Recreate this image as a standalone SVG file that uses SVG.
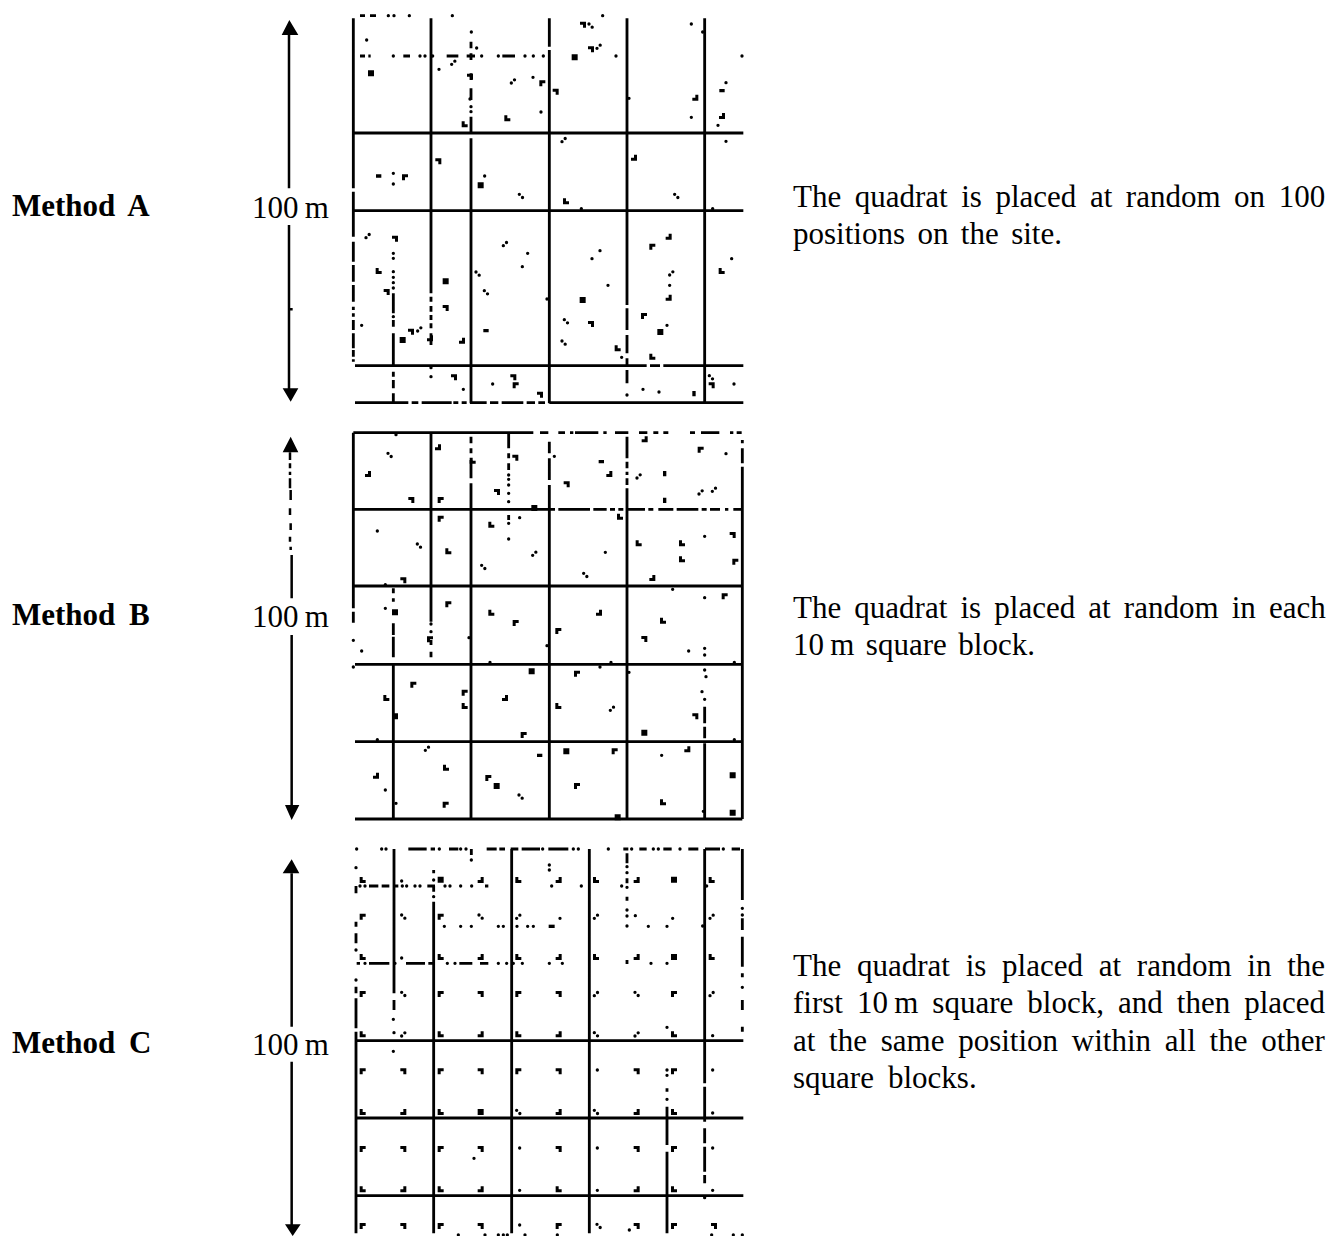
<svg xmlns="http://www.w3.org/2000/svg" width="1331" height="1236" viewBox="0 0 1331 1236">
<style>
text{font-family:"Liberation Serif","Times New Roman",serif;font-size:31px;fill:#000}
.m{font-weight:bold;word-spacing:5.9px}
.l{fill:none;stroke:#000;stroke-width:8.5}
.a{fill:none;stroke:#000;stroke-width:7.5}
.d{fill:none;stroke:#000;stroke-width:10;stroke-linecap:round}
.t{fill:none;stroke:#000;stroke-width:10}
.q{fill:none;stroke:#000;stroke-width:10;stroke-linecap:round;stroke-dasharray:0 13.5}
.s{fill:none;stroke:#000;stroke-width:18}
</style>
<defs>
<filter id="b" x="-2%" y="-2%" width="104%" height="104%"><feGaussianBlur stdDeviation="0.5"/></filter>
<path id="ul" d="M-9-9h18v9h-9v9h-9z"/>
<path id="ur" d="M-9-9h18v18h-9v-9h-9z"/>
<path id="ll" d="M-9-9h9v9h9v9h-18z"/>
<path id="lr" d="M0-9h9v18h-18v-9h9z"/>
</defs>
<rect width="1331" height="1236" fill="#fff"/>
<g id="method-a">
<text class="m" x="12" y="216">Method A</text>
<text x="252" y="218">100&#8201;m</text>
<text x="793" y="206.5" word-spacing="5.8">The quadrat is placed at random on 100</text>
<text x="793" y="243.5" word-spacing="4.7">positions on the site.</text>
<g id="plot-a" filter="url(#b)"><g transform="translate(270 0) scale(.33333)">
<path d="M35 105L58 60L85 105ZM38 1165H85L62 1205Z"/>
<path class="a" d="M57 100V565M57 675V1170M57 928H68"/>
<path class="l" d="M250 55V565M250 575V710M250 725V785M250 795V845M250 855V905M250 920V930M250 940V950M250 960V990M250 1000V1045M250 1050V1070M250 1078V1085
M483 55V880M483 890V905M483 918V935M483 945V960M483 970V985M483 1000V1035
M603 125V145M603 160V180M603 220V240M603 265V300M603 350V400M603 415V1210
M838 55V140M838 150V1210M1071 55V915M1071 925V990M1071 1005V1060M1071 1075V1095M1071 1110V1150M1304 55V1210
M370 880V940M370 960V980M370 1000V1095M370 1115V1130M370 1140V1165M370 1180V1210
M250 399H1420M250 632H1420M255 1097H1130M1140 1097H1170M1180 1097H1420
M255 1208H415M425 1208H445M455 1208H545M550 1208H565M575 1208H590M600 1208H650M660 1208H685M695 1208H760M770 1208H795M805 1208H825M838 1208H1420
M270 168H285M295 168H302M400 168H420M530 168H565M590 168H615M697 168H735M270 47H285M300 47H318"/>
<path class="d" d="M370 168h0M450 168h0M465 168h0M488 168h0M635 168h0M685 168h0M765 168h0M790 168h0M820 168h0M355 47h0M372 47h0M418 47h0M547 47h0M998 47h0M290 120h0M604 96h0M603 320h0M603 335h0M620 144h0M507 208h0M789 232h0M813 336h0M1038 168h0M1416 168h0M1264 72h0M1368 248h0M1264 352h0M1344 376h0M1368 424h0M370 520h0M370 552h0M644 528h0M934 626h0M1328 626h0M990 752h0M966 776h0M773 760h0M757 800h0M1014 856h0M1385 776h0M1199 856h0M1191 976h0M275 976h0M1055 1072h0M483 1130h0M580 1168h0M668 1152h0M1071 1185h0M1119 1168h0M1167 1176h0M1392 1152h0M483 1103h0M370 760h0M370 775h0M370 815h0M370 832h0M370 848h0M370 864h0M370 950h0M1077 295h0M831 897h0M1298 96h0M600 297h0"/>
<path class="s" d="M294 220h18M905 172h18M623 556h18M518 844h18M929 900h18M389 1020h18M1162 996h18"/>
<path class="q" d="M957 72l10 10M748 583l10 10M1214 583l10 10M618 816l10 10M643 872l10 10M883 959l10 10M876 1023l10 10M1318 1127l10 10M545 193l10-10M724 249l10-10M981 145l10-10M876 425l10-10M288 713l10-10M700 737l10-10M1199 825l10-10M443 993l10-10"/>
<path class="t" d="M1348 272h16M318 528h16M640 992h16M1272 1173v16"/>
<use href="#ur" x="939" y="74"/><use href="#ur" x="963" y="148"/><use href="#ur" x="600" y="230"/><use href="#ur" x="505" y="484"/><use href="#ur" x="375" y="716"/><use href="#ur" x="350" y="876"/><use href="#ur" x="527" y="924"/><use href="#ur" x="423" y="995"/><use href="#ur" x="552" y="1132"/><use href="#ur" x="730" y="1132"/><use href="#ur" x="963" y="972"/><use href="#ur" x="857" y="275"/><use href="#ur" x="810" y="1184"/><use href="#ur" x="1325" y="1156"/>
<use href="#ul" x="817" y="250"/><use href="#ul" x="405" y="532"/><use href="#ul" x="1147" y="740"/><use href="#ul" x="1122" y="948"/><use href="#ul" x="737" y="1156"/>
<use href="#ll" x="584" y="373"/><use href="#ll" x="712" y="355"/><use href="#ll" x="888" y="604"/><use href="#ll" x="326" y="813"/><use href="#ll" x="1043" y="1045"/><use href="#ll" x="1147" y="1070"/><use href="#ll" x="1355" y="813"/>
<use href="#lr" x="1276" y="293"/><use href="#lr" x="1356" y="348"/><use href="#lr" x="1196" y="710"/><use href="#lr" x="1196" y="893"/><use href="#lr" x="576" y="1022"/><use href="#lr" x="1092" y="473"/><use href="#lr" x="480" y="1015"/>
</g></g>
</g>
<g id="method-b">
<text class="m" x="12" y="625">Method B</text>
<text x="252" y="627">100&#8201;m</text>
<text x="793" y="617.5" word-spacing="5.4">The quadrat is placed at random in each</text>
<text x="793" y="654.5" word-spacing="3.8">10&#8201;m square block.</text>
<g id="plot-b" filter="url(#b)"><g transform="translate(270 420) scale(.33333)">
<path d="M38 97L62 50L85 97ZM45 1155H88L65 1200Z"/>
<path class="a" d="M60 97V120M60 130V145M60 155V165M60 175V205M62 210V240M60 265V285M62 310V330M60 350V365M62 380V390M65 405V535M65 645V1160"/>
<path class="l" d="M250 38V565M250 575V608M483 38V605M483 660V675M483 695V712M603 50V70M603 85V100M603 120V175M603 190V1197M716 40V85M716 100V115M716 130V150M716 285V300M838 65V100M838 115V180M838 195V1197M1071 50V115M1071 125V145M1071 155V165M1071 175V195M1071 205V1197M1417 60V70M1417 85V130M1417 140V1197M370 505V520M370 535V545M370 610V645M370 650V712M370 733V1197M1304 860V910M1304 920V955M1304 970V1197
M250 38H790M810 38H835M865 38H885M900 38H910M915 38H985M1000 38H1010M1035 38H1075M1107 38H1132M1150 38H1165M1180 38H1195M1260 38H1275M1293 38H1348M1380 38H1390M1400 38H1415
M250 268H855M865 268H960M970 268H1010M1020 268H1035M1045 268H1060M1075 268H1125M1135 268H1150M1165 268H1210M1220 268H1285M1295 268H1310M1320 268H1350M1365 268H1375M1390 268H1415
M250 498H1417M255 733H1417M255 965H1417M255 1197H1417"/>
<path class="d" d="M378 44h0M1368 101h0M853 109h0M749 293h0M322 333h0M716 357h0M1304 349h0M1006 397h0M346 494h0M1208 508h0M346 565h0M1304 533h0M250 661h0M250 741h0M275 693h0M1256 693h0M597 653h0M831 677h0M660 727h0M1023 727h0M1393 727h0M990 741h0M1077 757h0M322 959h0M1393 959h0M1296 815h0M1304 838h0M1304 685h0M1304 705h0M1304 750h0M1308 770h0M1175 1006h0M346 1110h0M378 1150h0M1300 1174h0M716 165h0M716 178h0M716 195h0M716 220h0M716 245h0M716 310h0M483 612h0M483 635h0"/>
<path class="s" d="M366 577h18M776 754h18M1114 938h18M369 889h15M880 994h18M671 1098h18M1379 1066h18M1379 1178h18M1034 1192h18M784 264h18"/>
<path class="q" d="M354 100l10 10M442 372l10 10M635 436l10 10M941 460l10 10M747 1125l10 10M1101 174l10-10M1287 222l10-10M1327 214l10-10M788 406l10-10M1021 871l10-10M466 991l10-10"/>
<path class="t" d="M986 125h16M801 1006h16M1184 153v16M1184 233v16"/>
<use href="#ll" x="608" y="122"/><use href="#ll" x="664" y="314"/><use href="#ll" x="1050" y="290"/><use href="#ll" x="535" y="394"/><use href="#ll" x="1106" y="370"/><use href="#ll" x="1236" y="370"/><use href="#ll" x="1236" y="418"/><use href="#ll" x="664" y="578"/><use href="#ll" x="1179" y="602"/><use href="#ll" x="349" y="834"/><use href="#ll" x="584" y="858"/><use href="#ll" x="865" y="858"/><use href="#ll" x="528" y="1043"/><use href="#ll" x="1179" y="1147"/>
<use href="#lr" x="294" y="162"/><use href="#lr" x="504" y="82"/><use href="#lr" x="1018" y="162"/><use href="#lr" x="1124" y="58"/><use href="#lr" x="1147" y="474"/><use href="#lr" x="987" y="578"/><use href="#lr" x="705" y="834"/><use href="#lr" x="1252" y="988"/><use href="#lr" x="318" y="1067"/>
<use href="#ur" x="424" y="240"/><use href="#ur" x="736" y="113"/><use href="#ur" x="890" y="193"/><use href="#ur" x="681" y="216"/><use href="#ur" x="1388" y="345"/><use href="#ur" x="400" y="481"/><use href="#ur" x="1123" y="657"/><use href="#ur" x="1276" y="889"/>
<use href="#ul" x="512" y="240"/><use href="#ul" x="512" y="296"/><use href="#ul" x="1292" y="89"/><use href="#ul" x="1396" y="425"/><use href="#ul" x="535" y="553"/><use href="#ul" x="737" y="609"/><use href="#ul" x="865" y="633"/><use href="#ul" x="1364" y="529"/><use href="#ul" x="430" y="794"/><use href="#ul" x="584" y="818"/><use href="#ul" x="921" y="761"/><use href="#ul" x="761" y="945"/><use href="#ul" x="1034" y="994"/><use href="#ul" x="921" y="1098"/><use href="#ul" x="655" y="1074"/><use href="#ul" x="527" y="1154"/><use href="#ul" x="480" y="658"/>
</g></g>
</g>
<g id="method-c">
<text class="m" x="12" y="1053">Method C</text>
<text x="252" y="1055">100&#8201;m</text>
<text x="793" y="976" word-spacing="8">The quadrat is placed at random in the</text>
<text x="793" y="1013" word-spacing="6.3">first 10&#8201;m square block, and then placed</text>
<text x="793" y="1051" word-spacing="6">at the same position within all the other</text>
<text x="793" y="1088" word-spacing="6.3">square blocks.</text>
<g id="plot-c" filter="url(#b)"><g transform="translate(270 830) scale(.33333)">
<path d="M38 130L65 88L88 130ZM45 1183H92L68 1218Z"/>
<path class="a" d="M65 130V590M65 695V1185"/>
<path class="l" d="M258 168V190M258 275V290M258 310V340M258 470V490M258 505V595M258 605V1210M372 57V490M372 510V540M491 120V130M491 168V185M491 215V1210M604 57V75M725 57V1210M958 57V1210M1071 70V100M1071 145V160M1071 200V212M1071 390V402M1191 775V785M1191 830V945M1191 965V1210M1304 57V760M1304 770V875M1304 895V940M1304 950V1025M1304 1035V1060M1417 57V210M1417 265V300M1417 320V410M1417 430V442M1417 510V540M1417 590V605
M415 57H470M482 57H495M537 57H565M650 57H680M688 57H705M722 57H745M755 57H810M835 57H895M1060 57H1075M1108 57H1130M1180 57H1205M1255 57H1285M1305 57H1350M1385 57H1410
M297 168H325M335 168H358M375 168H385M472 168H495M645 168H655
M260 400H270M297 400H358M408 400H465M475 400H490M568 400H607M630 400H655M258 632H1420M258 864H1420M258 1097H1420"/>
<path class="d" d="M260 57h0M335 57h0M348 57h0M508 57h0M572 57h0M588 57h0M818 57h0M910 57h0M925 57h0M1015 57h0M1085 57h0M1150 57h0M1165 57h0M1230 57h0M1360 57h0M604 90h0M258 113h0M258 360h0M258 450h0M491 150h0M491 200h0M1071 110h0M1071 128h0M1071 172h0M1071 240h0M1071 258h0M1071 288h0M1191 720h0M1191 736h0M1191 808h0M1191 592h0M1304 1103h0M1417 235h0M1417 255h0M1417 472h0M370 568h0M372 608h0M370 664h0M838 105h0M838 120h0M270 168h0M285 168h0M397 168h0M410 168h0M435 168h0M450 168h0M525 168h0M540 168h0M572 168h0M605 168h0M845 168h0M934 168h0M1055 168h0M1310 168h0M285 400h0M375 400h0M532 400h0M555 400h0M685 400h0M710 400h0M730 400h0M757 400h0M838 400h0M877 400h0M1143 400h0M1191 400h0M395 153h0M395 384h0M870 265h0M1096 257h0M1208 265h0M523 289h0M572 289h0M604 289h0M685 289h0M700 289h0M741 289h0M773 289h0M790 289h0M1135 289h0M1191 289h0M1298 288h0M982 720h0M1328 720h0M1328 617h0M1328 849h0M749 954h0M982 954h0M1328 954h0M749 1081h0M982 1081h0M1328 1081h0M749 1185h0M612 985h0M1078 1200h0M565 1215h0M645 1215h0M685 1215h0M700 1215h0M712 1215h0M765 1215h0M862 1215h0M1325 1215h0M1390 1215h0M1417 1215h0"/>
<path class="s" d="M503 149h18M1203 149h18M1203 381h18M623 846h18"/>
<path class="t" d="M836 289h18"/>
<path class="q" d="M395 255l10 10M627 255l10 10M395 487l10 10M1095 487l10 10M740 841l10 10M973 608l10 10M973 841l10 10M981 1183l10 10M740 265l10-10M973 265l10-10M1320 265l10-10M973 497l10-10M1320 497l10-10M395 618l10-10M1095 618l10-10"/>
<use href="#ll" x="278" y="150"/><use href="#lr" x="632" y="150"/><use href="#ll" x="745" y="150"/><use href="#lr" x="866" y="150"/><use href="#ll" x="978" y="150"/><use href="#lr" x="1100" y="150"/><use href="#ll" x="1325" y="150"/>
<use href="#ul" x="278" y="260"/><use href="#ul" x="512" y="260"/>
<use href="#ll" x="278" y="381"/><use href="#ll" x="512" y="381"/><use href="#lr" x="632" y="381"/><use href="#ll" x="745" y="381"/><use href="#lr" x="866" y="381"/><use href="#ll" x="978" y="381"/><use href="#lr" x="1100" y="381"/><use href="#ll" x="1325" y="381"/>
<use href="#ul" x="278" y="492"/><use href="#ul" x="512" y="492"/><use href="#ur" x="632" y="492"/><use href="#ul" x="745" y="492"/><use href="#ur" x="866" y="492"/><use href="#ul" x="1212" y="492"/>
<use href="#ll" x="278" y="613"/><use href="#ll" x="512" y="613"/><use href="#lr" x="632" y="613"/><use href="#ll" x="745" y="613"/><use href="#lr" x="866" y="613"/><use href="#ll" x="1212" y="613"/>
<use href="#ul" x="278" y="724"/><use href="#ur" x="400" y="724"/><use href="#ul" x="512" y="724"/><use href="#ur" x="632" y="724"/><use href="#ul" x="745" y="724"/><use href="#ur" x="866" y="724"/><use href="#ur" x="1100" y="724"/><use href="#ul" x="1212" y="724"/>
<use href="#ll" x="278" y="846"/><use href="#lr" x="400" y="846"/><use href="#ll" x="512" y="846"/><use href="#lr" x="866" y="846"/><use href="#lr" x="1100" y="846"/><use href="#ll" x="1212" y="846"/>
<use href="#ul" x="278" y="957"/><use href="#ur" x="400" y="957"/><use href="#ul" x="512" y="957"/><use href="#ur" x="632" y="957"/><use href="#ur" x="866" y="957"/><use href="#ur" x="1100" y="957"/><use href="#ul" x="1212" y="957"/>
<use href="#ll" x="278" y="1078"/><use href="#lr" x="400" y="1078"/><use href="#ll" x="512" y="1078"/><use href="#lr" x="632" y="1078"/><use href="#ll" x="866" y="1078"/><use href="#lr" x="1100" y="1078"/><use href="#ll" x="1212" y="1078"/>
<use href="#ul" x="278" y="1188"/><use href="#ur" x="400" y="1188"/><use href="#ul" x="512" y="1188"/><use href="#ur" x="632" y="1188"/><use href="#ul" x="866" y="1188"/><use href="#ur" x="1100" y="1188"/><use href="#ul" x="1212" y="1188"/><use href="#ur" x="1332" y="1188"/>
</g></g>
</g>
</svg>
